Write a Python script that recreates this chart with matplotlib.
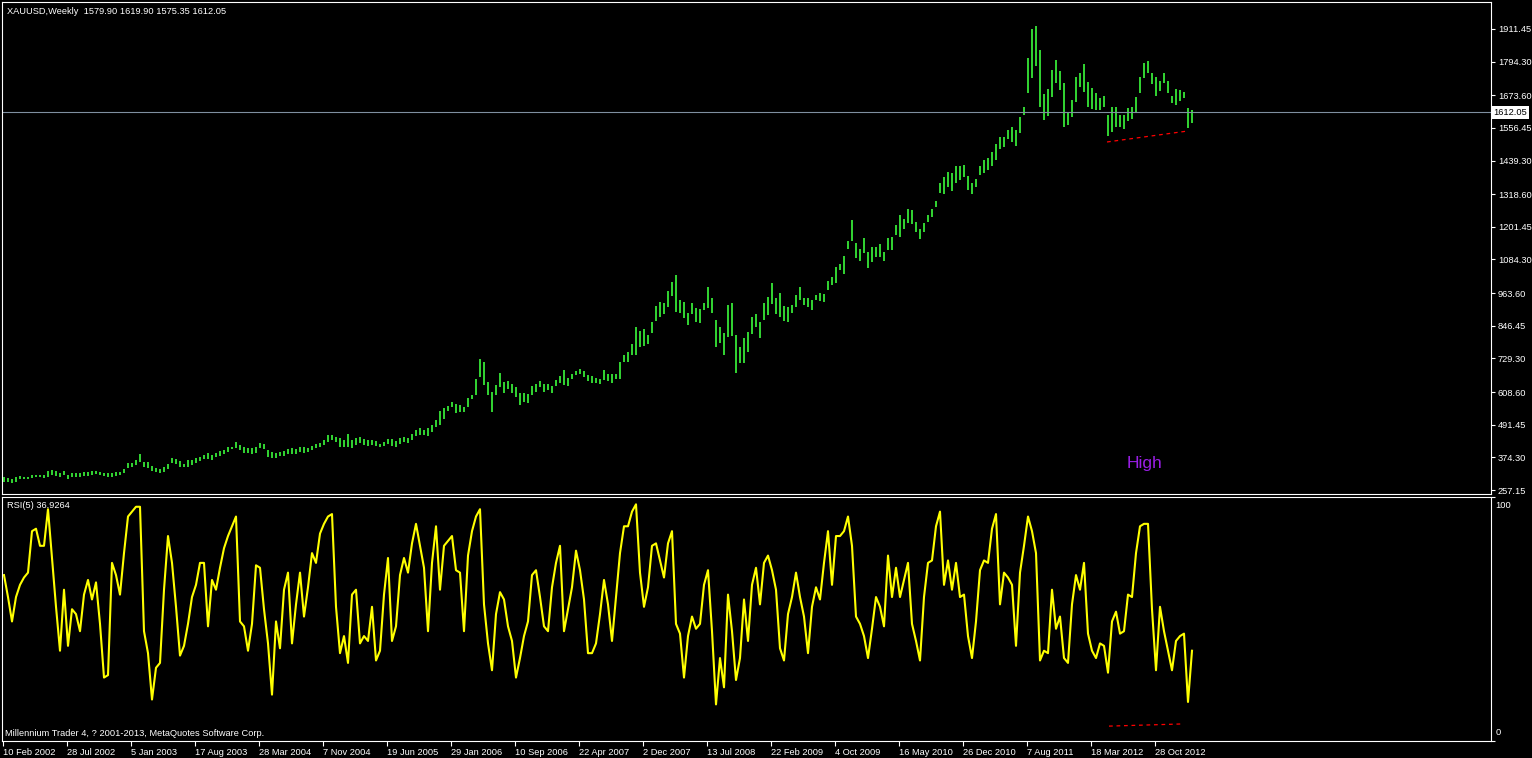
import numpy as np
import matplotlib
matplotlib.use("Agg")
import matplotlib.pyplot as plt
import matplotlib.transforms as mtransforms

plt.rcParams['font.family'] = ['Liberation Sans', 'DejaVu Sans']

# XAUUSD weekly at two-week steps (high / low)
price_high = [305, 299, 296, 305, 308, 305, 305, 311, 311, 311,
              311, 326, 329, 325, 319, 325, 311, 317, 319, 317,
              323, 323, 325, 325, 323, 319, 317, 317, 323, 323,
              333, 355, 353, 365, 386, 359, 356, 343, 335, 331,
              339, 350, 371, 368, 361, 350, 365, 365, 371, 377,
              384, 389, 383, 389, 398, 401, 410, 413, 431, 419,
              413, 407, 407, 413, 427, 422, 401, 392, 389, 395,
              397, 403, 407, 405, 410, 410, 407, 416, 423, 427,
              435, 453, 455, 449, 443, 437, 458, 437, 443, 446,
              441, 437, 437, 434, 423, 429, 440, 439, 432, 445,
              446, 443, 458, 471, 478, 473, 478, 490, 508, 542,
              550, 560, 573, 565, 562, 556, 586, 598, 654, 726,
              718, 646, 610, 633, 676, 646, 649, 636, 628, 606,
              604, 602, 630, 636, 649, 636, 638, 630, 651, 666,
              688, 658, 672, 685, 690, 684, 670, 666, 658, 654,
              688, 673, 672, 673, 715, 742, 752, 781, 843, 827,
              834, 812, 861, 917, 931, 927, 973, 1005, 1030, 939,
              933, 893, 929, 909, 906, 927, 984, 945, 867, 843,
              822, 921, 927, 813, 772, 801, 825, 879, 889, 861,
              927, 949, 999, 945, 963, 917, 915, 921, 957, 987,
              945, 947, 939, 957, 963, 960, 1008, 1020, 1059, 1067,
              1097, 1152, 1226, 1142, 1121, 1160, 1112, 1130, 1128, 1139,
              1112, 1160, 1164, 1208, 1244, 1228, 1264, 1262, 1220, 1195,
              1214, 1244, 1267, 1295, 1360, 1379, 1399, 1396, 1420, 1420,
              1425, 1384, 1358, 1372, 1420, 1440, 1450, 1470, 1500, 1525,
              1523, 1549, 1559, 1549, 1594, 1630, 1806, 1911, 1922, 1836,
              1678, 1695, 1764, 1800, 1762, 1717, 1609, 1657, 1740, 1755,
              1786, 1722, 1699, 1683, 1663, 1671, 1603, 1630, 1633, 1603,
              1603, 1627, 1630, 1669, 1740, 1788, 1798, 1755, 1740, 1726,
              1752, 1726, 1671, 1695, 1693, 1687, 1627, 1620]

price_low = [287, 287, 284, 287, 296, 296, 296, 299, 303, 303,
             302, 305, 311, 308, 305, 311, 296, 303, 303, 303,
             308, 309, 311, 313, 311, 308, 305, 305, 309, 311,
             317, 335, 339, 346, 359, 339, 336, 326, 320, 317,
             323, 333, 353, 350, 341, 339, 341, 347, 353, 362,
             367, 367, 365, 374, 380, 386, 393, 403, 407, 401,
             391, 391, 386, 389, 407, 403, 377, 371, 371, 379,
             379, 386, 386, 385, 392, 391, 395, 399, 409, 413,
             417, 431, 437, 431, 413, 413, 413, 407, 419, 425,
             417, 415, 419, 415, 411, 415, 422, 415, 413, 422,
             429, 425, 437, 450, 455, 455, 451, 467, 482, 490,
             511, 542, 554, 535, 538, 538, 556, 583, 598, 664,
             634, 598, 538, 598, 628, 604, 618, 604, 592, 562,
             574, 570, 598, 610, 625, 610, 616, 604, 630, 642,
             634, 630, 654, 669, 672, 664, 650, 640, 640, 636,
             652, 650, 642, 654, 654, 718, 718, 740, 742, 769,
             774, 782, 819, 865, 879, 889, 915, 953, 897, 891,
             873, 848, 889, 861, 858, 903, 909, 891, 772, 784,
             742, 807, 810, 678, 712, 714, 754, 817, 841, 801,
             867, 885, 925, 889, 879, 865, 861, 893, 913, 939,
             921, 913, 903, 939, 937, 933, 975, 993, 999, 1047,
             1032, 1121, 1152, 1089, 1080, 1109, 1053, 1077, 1092, 1094,
             1080, 1118, 1118, 1172, 1166, 1193, 1214, 1212, 1184, 1157,
             1184, 1220, 1238, 1271, 1324, 1319, 1346, 1331, 1360, 1370,
             1382, 1334, 1319, 1343, 1388, 1395, 1405, 1420, 1440, 1480,
             1487, 1517, 1507, 1492, 1537, 1603, 1681, 1734, 1779, 1633,
             1585, 1599, 1669, 1717, 1693, 1561, 1567, 1597, 1651, 1702,
             1687, 1633, 1623, 1621, 1621, 1630, 1527, 1543, 1561, 1559,
             1553, 1583, 1587, 1615, 1681, 1734, 1752, 1714, 1671, 1690,
             1717, 1681, 1645, 1639, 1654, 1663, 1555, 1575]

rsi = [68, 59, 49, 59, 64, 67, 69, 86, 87, 80,
       80, 95, 75, 55, 37, 62, 39, 54, 52, 45,
       60, 66, 58, 65, 48, 26, 27, 73, 68, 60,
       77, 92, 94, 96, 96, 45, 36, 17, 30, 32,
       62, 84, 73, 55, 35, 39, 48, 59, 64, 73,
       73, 47, 66, 62, 71, 79, 84, 88, 92, 49,
       47, 37, 48, 72, 71, 54, 40, 19, 49, 38,
       62, 69, 40, 56, 69, 51, 63, 77, 73, 85,
       89, 92, 93, 55, 36, 43, 32, 60, 62, 40,
       43, 41, 55, 33, 37, 60, 75, 41, 47, 68,
       75, 69, 81, 89, 80, 71, 45, 73, 88, 62,
       80, 82, 84, 70, 69, 45, 76, 86, 92, 95,
       56, 40, 29, 52, 61, 58, 47, 41, 26, 34,
       43, 49, 68, 70, 59, 47, 45, 63, 73, 80,
       45, 54, 63, 78, 70, 58, 36, 36, 40, 52,
       66, 56, 41, 59, 77, 88, 88, 94, 97, 69,
       55, 63, 80, 81, 74, 67, 81, 86, 48, 44,
       26, 43, 51, 46, 48, 64, 70, 45, 15, 34,
       22, 60, 45, 25, 34, 58, 41, 64, 71, 56,
       73, 76, 70, 62, 38, 33, 52, 59, 69, 59,
       51, 36, 55, 63, 58, 73, 86, 64, 84, 84,
       86, 92, 80, 51, 48, 43, 34, 46, 59, 55,
       47, 76, 59, 71, 59, 66, 73, 48, 41, 33,
       59, 73, 74, 88, 94, 64, 74, 62, 73, 59,
       60, 43, 34, 49, 70, 74, 73, 87, 93, 56,
       69, 67, 64, 39, 69, 80, 92, 86, 77, 33,
       37, 36, 62, 46, 51, 34, 32, 56, 68, 62,
       73, 44, 37, 34, 40, 39, 28, 49, 53, 44,
       45, 60, 59, 77, 88, 89, 89, 54, 29, 55,
       45, 37, 29, 41, 43, 44, 16, 37]

date_labels = ['10 Feb 2002', '28 Jul 2002', '5 Jan 2003', '17 Aug 2003',
               '28 Mar 2004', '7 Nov 2004', '19 Jun 2005', '29 Jan 2006',
               '10 Sep 2006', '22 Apr 2007', '2 Dec 2007', '13 Jul 2008',
               '22 Feb 2009', '4 Oct 2009', '16 May 2010', '26 Dec 2010',
               '7 Aug 2011', '18 Mar 2012', '28 Oct 2012']

price_ticks = [1911.45, 1794.30, 1673.60, 1556.45, 1439.30, 1318.60, 1201.45,
               1084.30, 963.60, 846.45, 729.30, 608.60, 491.45, 374.30, 257.15]

last_price = 1612.05
# hand drawn trend lines (week index, value)
trend_price_x = [552, 592]
trend_price_y = [1506, 1545]
trend_rsi_x = [553, 590]
trend_rsi_y = [6.1, 7.0]

W, H = 1532, 758
fig = plt.figure(figsize=(W / 100, H / 100), dpi=100, facecolor='black')

def box(x0, y0, x1, y1):
    return [x0 / W, 1 - y1 / H, (x1 - x0) / W, (y1 - y0) / H]

ax = fig.add_axes(box(2, 2, 1491, 494))
ax2 = fig.add_axes(box(2, 497, 1491, 741))

weeks = np.arange(len(price_high)) * 2 + 0.5
txt = 'white'
fs = 6.7

for a in (ax, ax2):
    a.set_facecolor('black')
    for s in a.spines.values():
        s.set_color('white')
        s.set_linewidth(0.8)
    a.set_xlim(-0.5, 744)

# price bars
ax.vlines(weeks, price_low, price_high, colors='#33d633', linewidth=1.4)
ax.axhline(last_price, color='#7f8fa0', linewidth=0.8)
ax.plot(trend_price_x, trend_price_y, color='red', linestyle=(0, (3, 3)), linewidth=0.9)
ax.set_ylim(242.8, 2008.3)
ax.set_xticks([])
ax.yaxis.tick_right()
ax.set_yticks(price_ticks)
ax.set_yticklabels(['%.2f' % v for v in price_ticks])
ax.tick_params(axis='y', colors=txt, length=3, width=0.8, pad=2, labelsize=fs)

yt = mtransforms.blended_transform_factory(ax.transAxes, ax.transData)
ax.text(1.0015, last_price, '%.2f' % last_price, transform=yt, color='black',
        fontsize=fs, va='center', ha='left',
        bbox=dict(facecolor='white', edgecolor='none', pad=1.2))

ax.text(0.7676, 0.063, 'High', transform=ax.transAxes, color='#9a1ee6',
        fontsize=12.5, ha='center', va='center')

# RSI panel
ax2.plot(weeks, rsi, color='#ffff00', linewidth=1.5)
ax2.plot(trend_rsi_x, trend_rsi_y, color='red', linestyle=(0, (3, 3)), linewidth=0.9)
ax2.set_ylim(0, 100)
ax2.yaxis.tick_right()
ax2.set_yticks([0, 100])
ax2.set_yticklabels(['', ''])
ax2.tick_params(axis='y', colors=txt, length=3, width=0.8)
ax2.text(1.003, 0.985, '100', transform=ax2.transAxes, color=txt, fontsize=fs, va='top', ha='left')
ax2.text(1.003, 0.015, '0', transform=ax2.transAxes, color=txt, fontsize=fs, va='bottom', ha='left')

ax2.set_xticks(np.arange(len(date_labels)) * 32)
ax2.set_xticklabels(date_labels, ha='left')
ax2.tick_params(axis='x', colors=txt, length=3.5, width=0.8, pad=1.5, labelsize=fs)

fig.text(7 / W, 1 - 11 / H, 'XAUUSD,Weekly  1579.90 1619.90 1575.35 1612.05',
         color=txt, fontsize=fs, va='center', ha='left')
fig.text(7 / W, 1 - 506 / H, 'RSI(5) 36.9264', color=txt, fontsize=fs, va='center', ha='left')
fig.text(5 / W, 1 - 733 / H, 'Millennium Trader 4, ? 2001-2013, MetaQuotes Software Corp.',
         color=txt, fontsize=fs, va='center', ha='left')

fig.savefig('out.png', dpi=100, facecolor='black')
